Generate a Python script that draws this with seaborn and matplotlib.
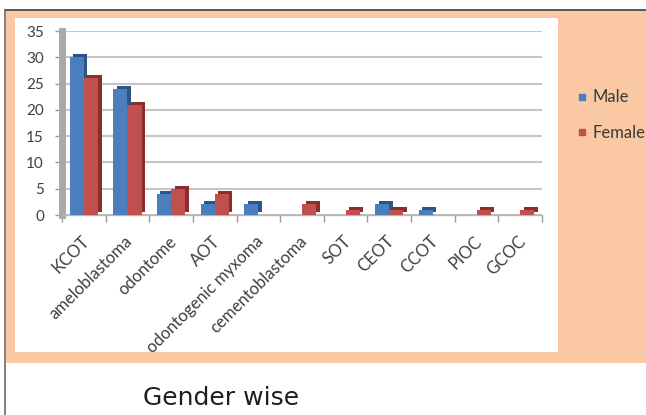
import matplotlib
matplotlib.use("Agg")
import matplotlib.pyplot as plt
from matplotlib.patches import Rectangle
from matplotlib.lines import Line2D
from matplotlib.transforms import ScaledTranslation
from matplotlib.ticker import FixedLocator
import numpy as np
import pandas as pd
import seaborn as sns

# Odontogenic tumour cases by sex
tumours = ["KCOT", "ameloblastoma", "odontome", "AOT", "odontogenic myxoma",
           "cementoblastoma", "SOT", "CEOT", "CCOT", "PIOC", "GCOC"]
male = [30, 24, 4, 2, 2, 0, 0, 2, 1, 0, 0]
female = [26, 21, 5, 4, 0, 2, 1, 1, 0, 1, 1]
series = ["Male", "Female"]
y_ticks = [0, 5, 10, 15, 20, 25, 30, 35]

df = pd.DataFrame({
    "tumour": tumours * 2,
    "cases": male + female,
    "sex": [series[0]] * len(tumours) + [series[1]] * len(tumours),
})

BLUE = "#4A7EBD"
RED = "#C0504D"
BLUE_DARK = "#2B5586"
RED_DARK = "#8A2E2B"
PEACH = "#FAC9A4"

sns.set_theme(style="white")
plt.rcParams["font.family"] = ["Lato", "DejaVu Sans"]

W, H = 646, 415
fig = plt.figure(figsize=(W / 100, H / 100), dpi=100)
fig.patch.set_facecolor("white")


def px_rect(x0, y0, x1, y1, color):
    fig.patches.append(Rectangle((x0 / W, 1 - y1 / H), (x1 - x0) / W, (y1 - y0) / H,
                                 transform=fig.transFigure, facecolor=color,
                                 edgecolor="none", zorder=-10))


# peach panel with a white chart area inside
px_rect(6, 11, W, 363, PEACH)
px_rect(15, 18, 558, 352, "white")
fig.lines.append(Line2D([5 / W, 1], [1 - 10 / H, 1 - 10 / H], transform=fig.transFigure,
                        color="#3A3A3A", lw=1.2, zorder=-5))
fig.lines.append(Line2D([5 / W, 5 / W], [0, 1 - 10 / H], transform=fig.transFigure,
                        color="#6A6A6A", lw=1.2, zorder=-5))

ax = fig.add_axes([62 / W, 1 - 215 / H, 480 / W, 184 / H])
ax.set_zorder(5)
ax.set_facecolor("none")

# darker copy offset up and right gives the bars a little depth
sns.barplot(data=df, x="tumour", y="cases", hue="sex", hue_order=series,
            palette=[BLUE_DARK, RED_DARK], width=0.65, gap=0, saturation=1,
            legend=False, ax=ax, errorbar=None, linewidth=0)
n_shadow = len(ax.patches)
shift = ScaledTranslation(0.035, 0.03, fig.dpi_scale_trans)
for p in ax.patches[:n_shadow]:
    p.set_transform(ax.transData + shift)
    p.set_zorder(2)

sns.barplot(data=df, x="tumour", y="cases", hue="sex", hue_order=series,
            palette=[BLUE, RED], width=0.65, gap=0, saturation=1,
            legend=False, ax=ax, errorbar=None, linewidth=0)
for p in ax.patches[n_shadow:]:
    p.set_zorder(3)

ax.set_ylim(0, 35)
ax.set_yticks(y_ticks)
ax.set_xlim(-0.5, len(tumours) - 0.5)
ax.set_xlabel("")
ax.set_ylabel("")

ax.yaxis.grid(True, color="#C6C6C6", lw=1.5)
ax.set_axisbelow(True)

for side in ("top", "right"):
    ax.spines[side].set_visible(False)
ax.spines["left"].set_color("#A9A9A9")
ax.spines["left"].set_linewidth(5)
ax.spines["bottom"].set_color("#B5B5B5")
ax.spines["bottom"].set_linewidth(1)

ax.tick_params(axis="y", which="major", length=5, width=1, color="#9A9A9A",
               labelsize=11, labelcolor="#404040", pad=8, left=True)
ax.tick_params(axis="x", which="major", length=0, labelsize=12,
               labelcolor="#404040", pad=13)
ax.xaxis.set_minor_locator(FixedLocator(np.arange(-0.5, len(tumours), 1.0)))
ax.tick_params(axis="x", which="minor", length=5, width=1, color="#9A9A9A",
               bottom=True)

label_shift = ScaledTranslation(-0.03, 0, fig.dpi_scale_trans)
for lab in ax.get_xticklabels():
    lab.set_rotation(45)
    lab.set_ha("right")
    lab.set_rotation_mode("anchor")
    lab.set_transform(lab.get_transform() + label_shift)

handles = [Line2D([], [], marker="s", linestyle="", color=c, markersize=5)
           for c in (BLUE, RED)]
fig.legend(handles, series, loc="center left",
           bbox_to_anchor=(577 / W, 1 - 115 / H), frameon=False, fontsize=12,
           handlelength=0.6, handletextpad=0.35, labelspacing=1.15,
           borderpad=0, borderaxespad=0, labelcolor="#3A3A3A")

fig.text(221 / W, 1 - 398 / H, "Gender wise", ha="center", va="center",
         fontsize=18, color="#1E1E1E", family=["DejaVu Sans"])

fig.savefig("out.png", dpi=100)
